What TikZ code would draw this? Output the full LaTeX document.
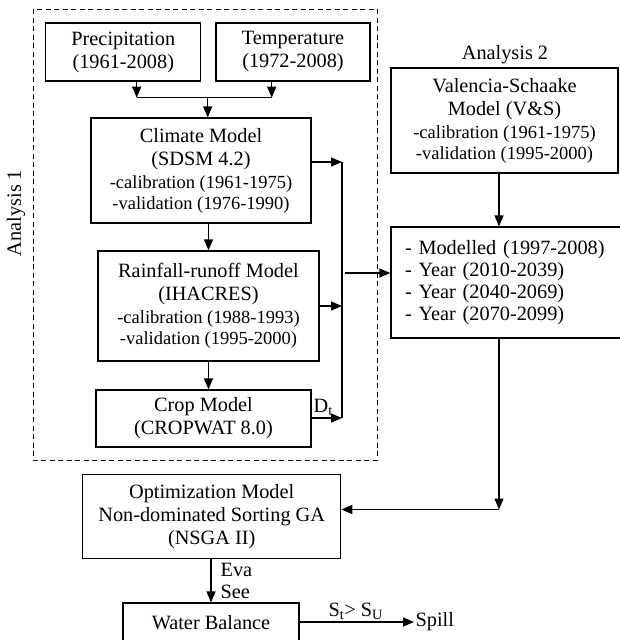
\documentclass[tikz,border=0pt]{standalone}
\usepackage{fontspec}
\setmainfont{Liberation Serif}
\usetikzlibrary{arrows.meta}
\newcommand{\subline}{\fontsize{18.5}{21}\selectfont}

\begin{document}
\begin{tikzpicture}
[x=1pt,y=-1pt,>={Triangle[length=11pt,width=9pt]},line width=1.2pt,
                    font=\fontsize{20.3}{23}\selectfont,
                    main node/.style={draw,inner sep=0pt,align=center},
                    bus/.style={line width=2.6pt}]

  \useasboundingbox (0,0) rectangle (620,640);

  % analysis 1 frame
  \draw[line width=1pt,dash pattern=on 5pt off 3.5pt] (33,9) rectangle (377,460);
  \node[rotate=90] (an1) at (16,213) {Analysis 1};
  \node (an2) at (505,55) {Analysis 2};

  \node[main node,minimum width=155pt,minimum height=58pt] (prec) at (123.3,52) {Precipitation\\(1961-2008)};
  \node[main node,minimum width=154pt,minimum height=58pt] (temp) at (293,52) {Temperature\\(1972-2008)};
  \node[main node,minimum width=220pt,minimum height=105pt] (climate) at (201,170.5)
    {Climate Model\\(SDSM 4.2)\\{\subline -calibration (1961-1975)}\\[-2pt]{\subline -validation (1976-1990)}};
  \node[main node,minimum width=221pt,minimum height=110pt] (rain) at (208.5,306)
    {Rainfall-runoff Model\\(IHACRES)\\{\subline -calibration (1988-1993)}\\[-2pt]{\subline -validation (1995-2000)}};
  \node[main node,minimum width=215pt,minimum height=57pt] (crop) at (203.5,418.5) {Crop Model\\(CROPWAT 8.0)};

  \node[main node,minimum width=227pt,minimum height=105pt] (vs) at (504.5,120.5)
    {Valencia-Schaake\\Model (V\&S)\\{\subline -calibration (1961-1975)}\\[-2pt]{\subline -validation (1995-2000)}};
  \node[main node,minimum width=234pt,minimum height=111pt,text width=206pt,align=left] (years) at (508,282.5)
    {- Modelled (1997-2008)\\[-1pt]- Year (2010-2039)\\[-1pt]- Year (2040-2069)\\[-1pt]- Year (2070-2099)};

  \node[main node,minimum width=258pt,minimum height=84pt] (opt) at (211.7,516.5)
    {Optimization Model\\Non-dominated Sorting GA\\(NSGA II)};
  \node[main node,minimum width=176pt,minimum height=40pt] (wb) at (211,623) {Water Balance};
  \node[anchor=west,inner sep=1pt] (spill) at (414,622) {Spill};
  \node[anchor=west,align=left,inner sep=0pt,font=\fontsize{20.3}{22}\selectfont] (evasee) at (220,580.5) {Eva\\See};

  % inputs to climate model
  \coordinate (pj) at (136.7,97.7);
  \coordinate (tj) at (271.7,97.7);
  \coordinate (join) at (207.7,97.7);
  \draw[->] (pj |- prec.south) -- (pj);
  \draw[->] (tj |- temp.south) -- (tj);
  \draw (pj) -- (tj);
  \draw[->] (join) -- (join |- climate.north);

  \draw[->] (rain.north |- climate.south) -- (rain.north);
  \draw[->] (rain.south) -- (rain.south |- crop.north);

  % collector line
  \coordinate (bustop) at (342,162);
  \coordinate (busbot) at (342,418);
  \draw[bus] (bustop) -- (busbot);
  \draw[->] (climate.east |- bustop) -- (bustop);
  \draw[->] (rain.east |- 0,306) -- (342,306);
  \draw[->] (crop.east |- busbot) -- (busbot) node[pos=0.38,above,inner sep=2pt] {D\textsubscript{t}};

  \coordinate (tap) at (345,273);
  \draw[->] (tap) -- (tap -| years.west);

  % analysis 2
  \coordinate (corner) at (499,509.5);
  \draw[->] (vs.south -| corner) -- (years.north -| corner);
  \draw[->] (years.south -| corner) -- (corner);
  \draw[->] (corner) -- (opt.east |- corner);

  \draw[->] (opt.south -| wb.north) -- (wb.north);
  \draw[->] ([xshift=-2pt]wb.east |- spill.west) -- (spill.west)
    node[midway,above,inner sep=2pt] {S\textsubscript{t}> S\textsubscript{U}};
\end{tikzpicture}
\end{document}
